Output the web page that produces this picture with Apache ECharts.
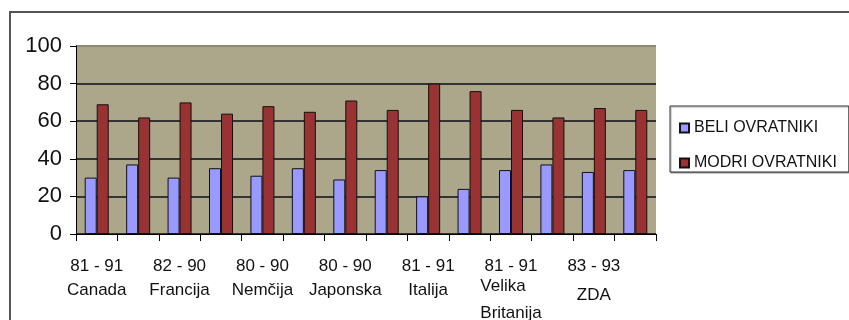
<!DOCTYPE html>
<html>
<head>
<meta charset="utf-8">
<script src="https://cdn.jsdelivr.net/npm/echarts@6/dist/echarts.min.js"></script>
<style>
  html, body { margin: 0; padding: 0; background: #ffffff; }
  #chart { width: 849px; height: 320px; }
</style>
</head>
<body>
<div id="chart"></div>
<script>
// Two bars per period: white-collar (beli) and blue-collar (modri) shares, in %
const periods = ['81 - 91', '82 - 90', '80 - 90', '80 - 90', '81 - 91', '81 - 91', '83 - 93'];
const countries = ['Canada', 'Francija', 'Nemčija', 'Japonska', 'Italija', 'Velika Britanija', 'ZDA'];
const categories = [
  'Canada I', 'Canada II', 'Francija I', 'Francija II', 'Nemčija I', 'Nemčija II',
  'Japonska I', 'Japonska II', 'Italija I', 'Italija II', 'Velika Britanija I', 'Velika Britanija II',
  'ZDA I', 'ZDA II'
];
const beliOvratniki  = [30, 37, 30, 35, 31, 35, 29, 34, 20, 24, 34, 37, 33, 34];
const modriOvratniki = [69, 62, 70, 64, 68, 65, 71, 66, 80, 76, 66, 62, 67, 66];
const yTicks = [0, 20, 40, 60, 80, 100];

const FONT = '"Liberation Sans", Arial, sans-serif';

function groupLabel(value, index) {
  const g = index / 2;
  const period = periods[g];
  const country = countries[g];
  if (country === 'Velika Britanija') {
    const parts = country.split(' ');
    return '{p|' + period + '}\n{v|' + parts[0] + '}\n{b|' + parts[1] + '}';
  }
  if (country === 'ZDA') {
    return '{p|' + period + '}\n{z|' + country + '}';
  }
  return '{p|' + period + '}\n{c|' + country + '}';
}

const chart = echarts.init(document.getElementById('chart'), null, { renderer: 'canvas' });
chart.setOption({
  animation: false,
  backgroundColor: '#ffffff',
  graphic: [{
    type: 'rect',
    shape: { x: 10, y: 12, width: 900, height: 400 },
    style: { fill: 'none', stroke: '#555555', lineWidth: 2 },
    silent: true,
    z: -1
  }],
  grid: {
    left: 76, right: 193, top: 46, bottom: 86,
    outerBoundsMode: 'none',
    containLabel: false,
    show: true,
    backgroundColor: '#aca68b',
    borderWidth: 0
  },
  legend: {
    orient: 'vertical',
    left: 670, top: 106,
    padding: [14, 12, 1, 9],
    itemWidth: 9, itemHeight: 9,
    itemGap: 19,
    icon: 'rect',
    borderColor: '#333333', borderWidth: 1,
    backgroundColor: '#ffffff',
    shadowColor: 'rgba(0,0,0,0.35)', shadowOffsetX: 1, shadowOffsetY: 1, shadowBlur: 1,
    textStyle: { fontFamily: FONT, fontSize: 16, color: '#111111', lineHeight: 16 },
    data: ['BELI OVRATNIKI', 'MODRI OVRATNIKI']
  },
  xAxis: {
    type: 'category',
    data: categories,
    boundaryGap: true,
    axisLine: { show: true, lineStyle: { color: '#000000', width: 1 } },
    axisTick: { show: true, interval: 0, length: 7, lineStyle: { color: '#000000' } },
    axisLabel: {
      interval: 1,
      margin: 22,
      formatter: groupLabel,
      fontFamily: FONT,
      color: '#111111',
      rich: {
        p: { fontFamily: FONT, fontSize: 17, lineHeight: 20, color: '#111111', align: 'center' },
        c: { fontFamily: FONT, fontSize: 17, lineHeight: 28, color: '#111111', align: 'center' },
        v: { fontFamily: FONT, fontSize: 17, lineHeight: 20, color: '#111111', align: 'left' },
        b: { fontFamily: FONT, fontSize: 17, lineHeight: 34, color: '#111111', align: 'left' },
        z: { fontFamily: FONT, fontSize: 17, lineHeight: 38, color: '#111111', align: 'center' }
      }
    },
    splitLine: { show: false }
  },
  yAxis: {
    type: 'value',
    min: yTicks[0], max: yTicks[yTicks.length - 1], interval: 20,
    axisLine: { show: true, lineStyle: { color: '#000000', width: 1 } },
    axisTick: { show: true, length: 6, lineStyle: { color: '#000000' } },
    axisLabel: { fontFamily: FONT, fontSize: 22, color: '#111111', margin: 14 },
    splitLine: {
      show: true,
      lineStyle: { color: ['#333333', '#333333', '#333333', '#333333', '#333333', '#8e8970'], width: 2 }
    }
  },
  series: [
    {
      name: 'BELI OVRATNIKI',
      type: 'bar',
      data: beliOvratniki,
      barWidth: 12,
      barGap: '0%',
      itemStyle: { color: '#9999ff', borderColor: '#111111', borderWidth: 1 }
    },
    {
      name: 'MODRI OVRATNIKI',
      type: 'bar',
      data: modriOvratniki,
      barWidth: 12,
      barGap: '0%',
      itemStyle: { color: '#993333', borderColor: '#111111', borderWidth: 1 }
    }
  ]
});
</script>
</body>
</html>
